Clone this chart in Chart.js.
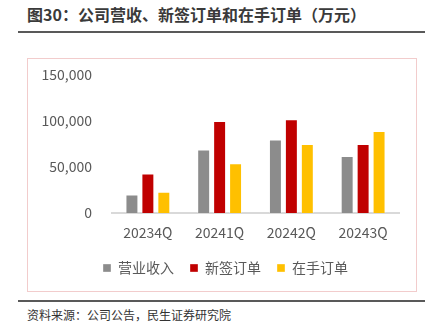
<!DOCTYPE html>
<html>
<head>
<meta charset="utf-8">
<script src="https://cdn.jsdelivr.net/npm/chart.js@4.4.1/dist/chart.umd.min.js"></script>
<style>
  body { margin: 0; width: 433px; height: 330px; background: #fff; position: relative; overflow: hidden;
         font-family: "Noto Sans CJK SC", "Microsoft YaHei", sans-serif; }
  #title { position: absolute; left: 27px; top: 3px; font-size: 16px; font-weight: bold; color: #3a3a3a; line-height: 22px; white-space: nowrap; }
  .rule { position: absolute; left: 18px; width: 407px; height: 2px; background: #595959; }
  #box { position: absolute; left: 27px; top: 58px; width: 388px; height: 232px; border: 1px solid #f2cccc; }
  #source { position: absolute; left: 27px; top: 306px; font-size: 12px; color: #333; line-height: 18px; white-space: nowrap; }
  canvas { position: absolute; left: 0; top: 0; }
</style>
</head>
<body>
<div id="title">图30：公司营收、新签订单和在手订单（万元）</div>
<div class="rule" style="top:31px"></div>
<div id="box"><canvas id="chart" width="388" height="232"></canvas></div>
<div class="rule" style="top:300px"></div>
<div id="source">资料来源：公司公告，民生证券研究院</div>
<script>
// data (万元)
const categories = ['20234Q', '20241Q', '20242Q', '20243Q'];
const revenue = [20000, 69000, 80000, 62000];
const newOrders = [43000, 100000, 102000, 75000];
const backlog = [23000, 54000, 75000, 89000];
const yTicks = [0, 50000, 100000, 150000];

const tickColor = '#595959';
const cjkFont = '"Noto Sans CJK SC", "Microsoft YaHei", sans-serif';

function barSet(label, values, color) {
  return {
    label: label,
    data: values,
    backgroundColor: color,
    borderColor: 'rgba(255,255,255,0.35)',
    borderWidth: 1,
    categoryPercentage: 0.667,
    barPercentage: 0.8125
  };
}

// the legend in the original sits a little right of centre
const legendShift = {
  id: 'legendShift',
  afterLayout: function(chart) {
    chart.legend.left += 9;
    chart.legend.right += 9;
  }
};

const ctx = document.getElementById('chart');
new Chart(ctx, {
  type: 'bar',
  data: {
    labels: categories,
    datasets: [
      barSet('营业收入', revenue, '#8c8c8c'),
      barSet('新签订单', newOrders, '#c00000'),
      barSet('在手订单', backlog, '#ffc000')
    ]
  },
  plugins: [legendShift],
  options: {
    responsive: false,
    animation: false,
    layout: { padding: { top: 16, right: 17, left: 6, bottom: 6 } },
    scales: {
      x: {
        grid: { display: false, drawTicks: false },
        border: { color: '#d9d9d9', width: 2 },
        afterFit: function(scale) { scale.height = 32; },
        ticks: { color: tickColor, padding: 11, font: { family: cjkFont, size: 14 } }
      },
      y: {
        min: 0,
        max: 150000,
        afterBuildTicks: function(scale) {
          scale.ticks = yTicks.map(v => ({ value: v }));
        },
        afterFit: function(scale) {
          scale.width = 78;
          scale.paddingTop = 0;
          scale.paddingBottom = 0;
        },
        grid: { display: false, drawTicks: false },
        border: { display: false },
        ticks: {
          color: tickColor,
          padding: 20,
          font: { family: cjkFont, size: 14 },
          callback: v => v.toLocaleString('en-US')
        }
      }
    },
    plugins: {
      legend: {
        position: 'bottom',
        labels: {
          color: tickColor,
          boxWidth: 8,
          boxHeight: 8,
          padding: 16,
          font: { family: cjkFont, size: 14 }
        }
      },
      tooltip: { enabled: false }
    }
  }
});
</script>
</body>
</html>
